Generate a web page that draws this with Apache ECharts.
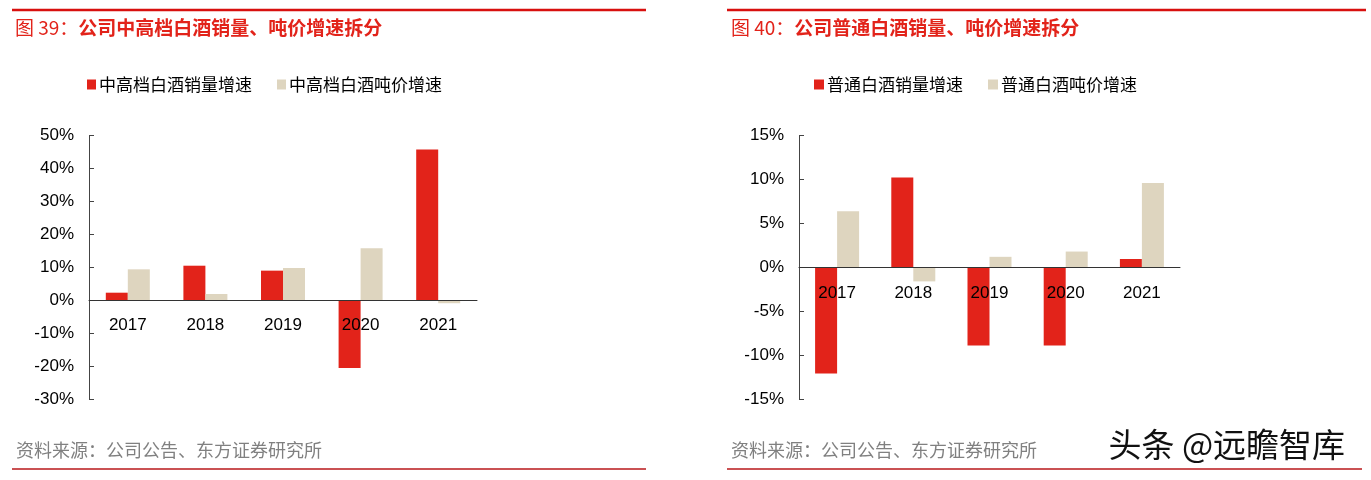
<!DOCTYPE html>
<html>
<head>
<meta charset="utf-8">
<script src="https://cdn.jsdelivr.net/npm/echarts@6/dist/echarts.min.js"></script>
<style>html,body{margin:0;padding:0;background:#fff}#c{width:1371px;height:480px}</style>
</head>
<body>
<div id="c"></div>
<script>
var years = ['2017', '2018', '2019', '2020', '2021'];
var midVolume = [2.3, 10.5, 9.0, -20.6, 45.8];
var midPrice = [9.4, 1.9, 9.8, 15.8, -0.9];
var normVolume = [-12.1, 10.25, -8.9, -8.9, 0.95];
var normPrice = [6.4, -1.6, 1.2, 1.8, 9.6];
var leftAxis = {min: -30, max: 50, interval: 10};
var rightAxis = {min: -15, max: 15, interval: 5};
var names = ['中高档白酒销量增速', '中高档白酒吨价增速', '普通白酒销量增速', '普通白酒吨价增速'];
var titles = [['图 39：', '公司中高档白酒销量、吨价增速拆分'], ['图 40：', '公司普通白酒销量、吨价增速拆分']];
var source = '资料来源：公司公告、东方证券研究所';
var watermark = '头条 @远瞻智库';

var RED = '#E2231A', BEIGE = '#DED5BF';
var FONT = '"Liberation Sans", Arial, "Noto Sans CJK SC", sans-serif';
var CJK = '"Noto Sans CJK SC", "Liberation Sans", sans-serif';
var GRID_H = 263.3;

function xAx(gi, a) {
  // place the category axis on the zero line of the value axis
  var zeroOffset = -(0 - a.min) / (a.max - a.min) * GRID_H;
  return {
    type: 'category', gridIndex: gi, data: years, z: 5, position: 'bottom', offset: zeroOffset,
    axisLine: {onZero: false, lineStyle: {color: '#333', width: 1}},
    axisTick: {inside: true, length: 5, lineStyle: {color: '#333'}},
    axisLabel: {margin: 17, fontSize: 17, color: '#000', fontFamily: FONT}
  };
}
function yAx(gi, a) {
  return {
    type: 'value', gridIndex: gi, min: a.min, max: a.max, interval: a.interval,
    splitLine: {show: false},
    axisLine: {show: true, lineStyle: {color: '#444', width: 1}},
    axisTick: {show: true, inside: true, length: 5, lineStyle: {color: '#444'}},
    axisLabel: {margin: 15, fontSize: 17, color: '#000', fontFamily: FONT, formatter: '{value}%'}
  };
}
function bar(name, data, color, idx) {
  return {
    type: 'bar', name: name, data: data, xAxisIndex: idx, yAxisIndex: idx,
    barWidth: 22, barGap: '0%', itemStyle: {color: color}, z: 2
  };
}
function titleText(x, t) {
  return {
    type: 'text', left: x, top: 18,
    style: {
      text: '{a|' + t[0] + '}{b|' + t[1] + '}',
      rich: {
        a: {fontSize: 19, fontFamily: CJK, fill: RED, fontWeight: 'normal'},
        b: {fontSize: 19, fontFamily: CJK, fill: RED, fontWeight: 'bold'}
      }
    }
  };
}
function lineEl(x1, x2, y, color, w) {
  return {type: 'line', shape: {x1: x1, y1: y, x2: x2, y2: y}, style: {stroke: color, lineWidth: w}};
}

var chart = echarts.init(document.getElementById('c'));
chart.setOption({
  animation: false,
  backgroundColor: '#fff',
  grid: [
    {left: 89, top: 135.7, width: 388, height: GRID_H},
    {left: 799, top: 135.7, width: 381, height: GRID_H}
  ],
  legend: [
    {data: [names[0], names[1]], left: 87, top: 76, padding: 0, icon: 'rect', itemWidth: 9, itemHeight: 10, itemGap: 25,
     textStyle: {fontSize: 17, color: '#000', fontFamily: CJK, padding: [0, 0, 0, -2]}},
    {data: [names[2], names[3]], left: 814, top: 76, padding: 0, icon: 'rect', itemWidth: 10, itemHeight: 10, itemGap: 25,
     textStyle: {fontSize: 17, color: '#000', fontFamily: CJK, padding: [0, 0, 0, -2]}}
  ],
  xAxis: [xAx(0, leftAxis), xAx(1, rightAxis)],
  yAxis: [yAx(0, leftAxis), yAx(1, rightAxis)],
  series: [
    bar(names[0], midVolume, RED, 0),
    bar(names[1], midPrice, BEIGE, 0),
    bar(names[2], normVolume, RED, 1),
    bar(names[3], normPrice, BEIGE, 1)
  ],
  graphic: [
    lineEl(12, 646, 10, '#D8100F', 2.5),
    lineEl(727, 1366, 10, '#D8100F', 2.5),
    titleText(15, titles[0]),
    titleText(731, titles[1]),
    {type: 'text', left: 16, top: 441, style: {text: source, fontSize: 18, fontFamily: CJK, fill: '#808080'}},
    {type: 'text', left: 731, top: 441, style: {text: source, fontSize: 18, fontFamily: CJK, fill: '#808080'}},
    lineEl(12, 646, 469, '#B8171A', 1.5),
    lineEl(727, 1362, 469, '#B8171A', 1.5),
    {type: 'text', left: 1107, top: 426, z: 10, style: {text: watermark, fontSize: 33, fontFamily: CJK, fill: '#111',
      stroke: '#fff', lineWidth: 3}}
  ]
});
</script>
</body>
</html>
